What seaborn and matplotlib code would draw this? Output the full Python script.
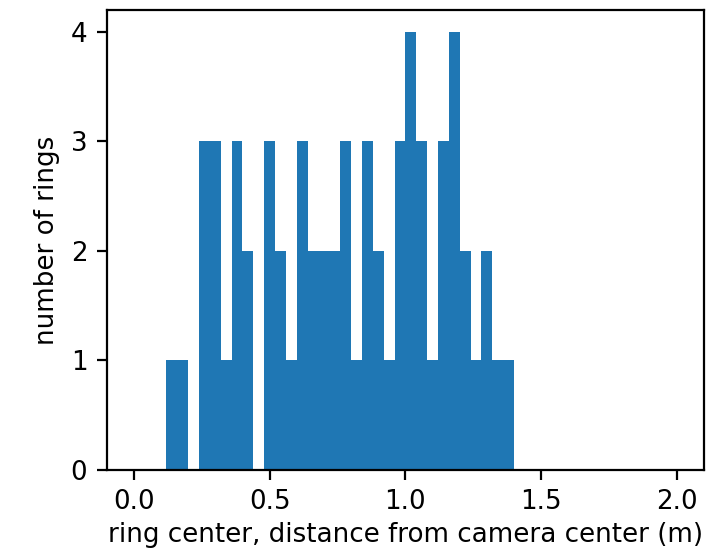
import numpy as np
import pandas as pd
import matplotlib
matplotlib.use("Agg")
import matplotlib.pyplot as plt
import seaborn as sns

# histogram counts per 0.04 m bin, from 0 to 2 m
bin_edges = np.linspace(0.0, 2.0, 51)
counts = [0, 0, 0, 1, 1, 0, 3, 3, 1, 3,
          2, 0, 3, 2, 1, 3, 2, 2, 2, 3,
          1, 3, 2, 1, 3, 4, 3, 1, 3, 4,
          2, 1, 2, 1, 1, 0, 0, 0, 0, 0,
          0, 0, 0, 0, 0, 0, 0, 0, 0, 0]
bin_centers = (bin_edges[:-1] + bin_edges[1:]) / 2

df = pd.DataFrame({"dist": bin_centers, "n": counts})

plt.rcParams["font.size"] = 9.4
fig = plt.figure(figsize=(3.55, 2.755), dpi=200)
ax = fig.add_axes([0.1503, 0.147, 0.8413, 0.8348])
sns.histplot(data=df, x="dist", weights="n", binwidth=0.04, binrange=(0.0, 2.0),
             color="#1f77b4", alpha=1, edgecolor="none", linewidth=0, ax=ax)
ax.set_xlabel("ring center, distance from camera center (m)", labelpad=2.5)
ax.set_ylabel("number of rings")
ax.set_xticks([0.0, 0.5, 1.0, 1.5, 2.0])
ax.set_yticks([0, 1, 2, 3, 4])

fig.savefig("out.png", dpi=200)
